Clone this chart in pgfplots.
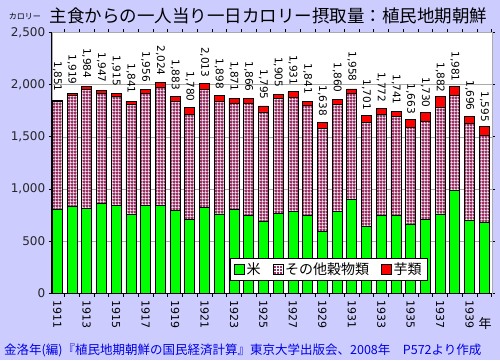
\documentclass[border=0pt]{standalone}
\usepackage{fontspec}
\setmainfont{DejaVu Sans}
\newfontfamily\jp{Noto Sans CJK JP}
\usepackage{pgfplots}
\pgfplotsset{compat=1.18}
\usepackage{pgfplotstable}
\usetikzlibrary{patterns}

\definecolor{bgc}{RGB}{204,204,255}
\definecolor{plum}{RGB}{153,51,102}
\definecolor{srcblue}{RGB}{0,0,230}
\definecolor{gridg}{RGB}{170,170,170}

\pgfdeclarepatternformonly{xlsgrid}{\pgfpointorigin}{\pgfqpoint{3.3pt}{3.3pt}}{\pgfqpoint{3.3pt}{3.3pt}}{%
 \pgfpathrectangle{\pgfpointorigin}{\pgfqpoint{3.3pt}{0.9pt}}%
 \pgfpathrectangle{\pgfpointorigin}{\pgfqpoint{0.9pt}{3.3pt}}%
 \pgfusepath{fill}}

\pgfplotstableread{
year rice other imo total
1911 809 1027 15 1851
1912 831 1068 20 1919
1913 811 1144 29 1984
1914 863 1049 35 1947
1915 847 1036 32 1915
1916 754 1055 32 1841
1917 847 1067 42 1956
1918 847 1123 54 2024
1919 799 1039 45 1883
1920 713 1000 67 1780
1921 821 1128 64 2013
1922 761 1080 57 1898
1923 806 1014 51 1871
1924 744 1077 45 1866
1925 694 1044 57 1795
1926 767 1097 41 1905
1927 787 1087 57 1931
1928 751 1049 41 1841
1929 591 993 54 1638
1930 789 1017 54 1860
1931 902 1016 40 1958
1932 639 995 67 1701
1933 752 959 61 1772
1934 752 944 45 1741
1935 666 927 70 1663
1936 706 944 80 1730
1937 761 1025 96 1882
1938 990 905 86 1981
1939 703 923 70 1696
1940 685 827 83 1595
}\data

\begin{document}
\begin{tikzpicture}
\useasboundingbox (0,0) rectangle (500pt,360pt);
\fill[bgc] (0,0) rectangle (500pt,360pt);
\begin{axis}[
 at={(51.7pt,66.5pt)}, anchor=south west,
 scale only axis, width=440pt, height=261.2pt,
 ybar stacked, bar width=0.68,
 xmin=1910.62, xmax=1940.5, ymin=0, ymax=2500,
 ytick={0,500,1000,1500,2000,2500},
 xtick={1911,1913,...,1939},
 xticklabels={1911,1913,1915,1917,1919,1921,1923,1925,1927,1929,1931,1933,1935,1937,1939},
 minor xtick={1910.5,1911.5,...,1940.5},
 major x tick style={draw=none},
 tick align=outside, major tick length=3pt, minor tick length=3pt,
 tick style={black, thick},
 ymajorgrids, grid style={gridg, thin},
 axis background/.style={fill=white},
 axis line style={gridg},
 /pgf/number format/assume math mode=true,
 /pgf/number format/1000 sep={,},
 yticklabel style={font=\fontsize{12}{14}\selectfont, text=black!85},
 xticklabel style={font=\fontsize{11}{13}\selectfont, rotate=-90, anchor=west},
 legend style={at={(0.630,0.092)}, anchor=center, draw=black, thick, fill=white,
   font=\jp\fontsize{14}{16}\selectfont, inner xsep=4pt, inner ysep=2pt,
   /tikz/every even column/.append style={column sep=10pt}},
 legend columns=-1,
 legend image code/.code={\draw[#1, thin] (0pt,-5pt) rectangle (10pt,5pt);},
 after end axis/.code={\draw[black,line width=1.3pt] (rel axis cs:0,1) -- (rel axis cs:0,0) -- (rel axis cs:1,0);},
]
\addplot[fill=green, draw=black, line width=0.8pt] table[x=year,y=rice]{\data};
\addlegendentry{米}
\addplot[fill=plum, draw=black, line width=0.8pt, postaction={pattern=xlsgrid, pattern color=white}] table[x=year,y=other]{\data};
\addlegendentry{その他穀物類}
\addplot[fill=red, draw=black, line width=0.8pt,
  point meta=explicit, nodes near coords,
  nodes near coords align={anchor=east},
  every node near coord/.append style={rotate=-90, anchor=east, inner xsep=9pt, font=\fontsize{10.5}{12}\selectfont, text=black}
  ] table[x=year,y=imo,meta=total]{\data};
\addlegendentry{芋類\hspace{24pt}}
\end{axis}
\node[font=\jp\fontsize{17.5}{20}\selectfont] at (268.5pt,344.5pt) {主食からの一人当り一日カロリー摂取量：植民地期朝鮮};
\node[font=\jp\fontsize{8}{9}\selectfont] at (25pt,343.5pt) {カロリー};
\node[font=\jp\fontsize{13}{14}\selectfont] at (485pt,36pt) {年};
\node[font=\jp\fontsize{12.5}{14}\selectfont, text=srcblue, anchor=west, inner sep=0pt] at (4pt,10pt) {金洛年(編)『植民地期朝鮮の国民経済計算』東京大学出版会、2008年　P572より作成};
\end{tikzpicture}
\end{document}
